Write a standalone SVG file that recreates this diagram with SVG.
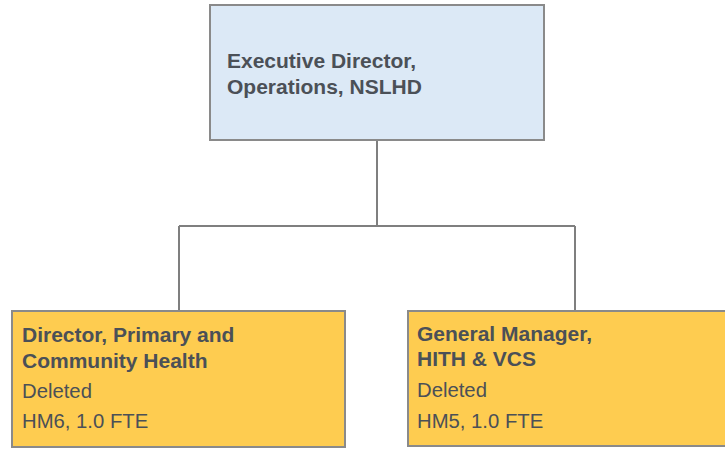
<svg xmlns="http://www.w3.org/2000/svg" width="725" height="450" viewBox="0 0 725 450">
  <style>
    .box { stroke: #8a8a8a; stroke-width: 2; }
    .top { fill: #dce9f6; }
    .leaf { fill: #fecc50; }
    .conn { fill: none; stroke: #7f7f7f; stroke-width: 2; }
    text { font-family: "Liberation Sans", Arial, sans-serif; fill: #4b5057; font-size: 20.3px; }
    .b { font-weight: bold; font-size: 21px; }
  </style>
  <rect width="725" height="450" fill="#ffffff"/>
  <g id="connectors">
    <path class="conn" d="M377,140 V226 M179,226 H575 M179,226 V311 M575,226 V311"/>
  </g>
  <g id="node-exec">
    <rect class="box top" x="210" y="5" width="334" height="135"/>
    <text class="b" x="227" y="68">Executive Director,</text>
    <text class="b" x="227" y="94">Operations, NSLHD</text>
  </g>
  <g id="node-director">
    <rect class="box leaf" x="12" y="311" width="333" height="136"/>
    <text class="b" x="22" y="342">Director, Primary and</text>
    <text class="b" x="22" y="368">Community Health</text>
    <text x="22" y="398">Deleted</text>
    <text x="22" y="428">HM6, 1.0 FTE</text>
  </g>
  <g id="node-gm">
    <rect class="box leaf" x="408" y="311" width="330" height="135"/>
    <text class="b" x="417" y="341">General Manager,</text>
    <text class="b" x="417" y="366">HITH &amp; VCS</text>
    <text x="417" y="397">Deleted</text>
    <text x="417" y="428">HM5, 1.0 FTE</text>
  </g>
</svg>
